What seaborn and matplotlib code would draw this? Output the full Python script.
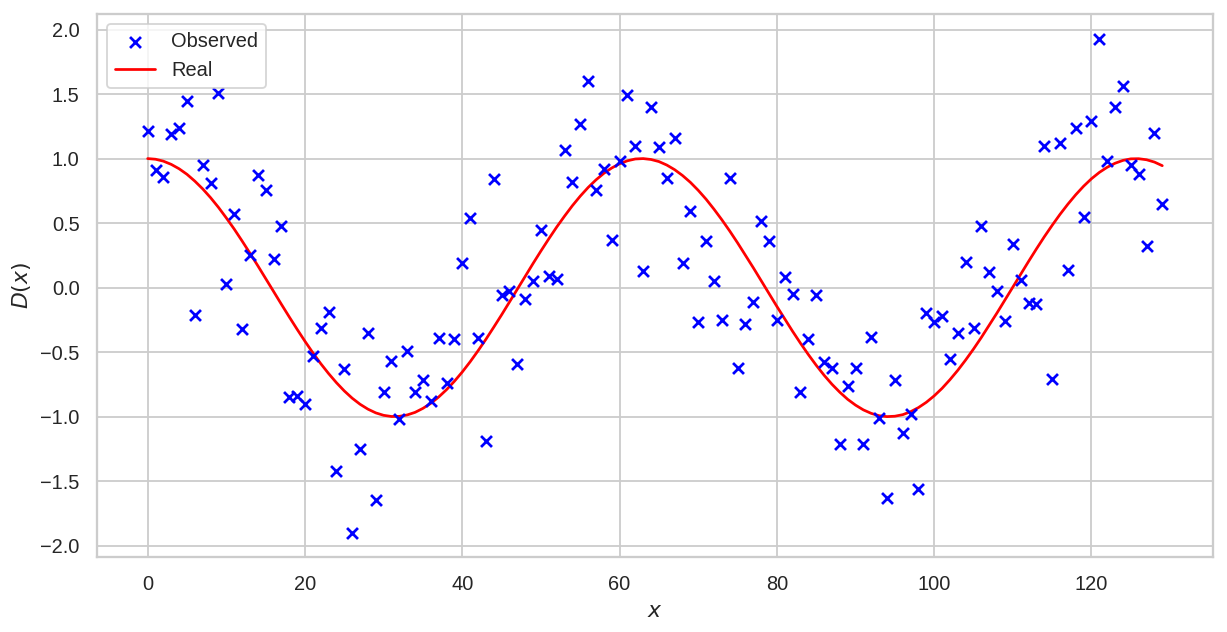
import matplotlib
matplotlib.use("Agg")
import matplotlib.pyplot as plt
import seaborn as sns
import pandas as pd

x_vals = list(range(130))

observed = [
    1.21, 0.91, 0.86, 1.19, 1.24, 1.45, -0.21, 0.95, 0.81, 1.51,
    0.03, 0.57, -0.32, 0.25, 0.87, 0.76, 0.22, 0.48, -0.85, -0.84,
    -0.90, -0.53, -0.31, -0.19, -1.42, -0.63, -1.90, -1.25, -0.35, -1.65,
    -0.81, -0.57, -1.02, -0.49, -0.81, -0.72, -0.88, -0.39, -0.74, -0.40,
    0.19, 0.54, -0.39, -1.19, 0.84, -0.06, -0.03, -0.59, -0.09, 0.05,
    0.45, 0.09, 0.07, 1.07, 0.82, 1.27, 1.60, 0.76, 0.92, 0.37,
    0.98, 1.49, 1.10, 0.13, 1.40, 1.09, 0.85, 1.16, 0.19, 0.59,
    -0.27, 0.36, 0.05, -0.25, 0.85, -0.62, -0.28, -0.11, 0.52, 0.36,
    -0.25, 0.08, -0.05, -0.81, -0.40, -0.06, -0.58, -0.62, -1.21, -0.76,
    -0.62, -1.21, -0.38, -1.01, -1.63, -0.72, -1.13, -0.98, -1.56, -0.20,
    -0.27, -0.22, -0.55, -0.35, 0.20, -0.31, 0.48, 0.12, -0.03, -0.26,
    0.34, 0.06, -0.12, -0.13, 1.10, -0.71, 1.12, 0.14, 1.24, 0.55,
    1.29, 1.93, 0.98, 1.40, 1.56, 0.95, 0.88, 0.32, 1.20, 0.65,
]

real = [
    1.000, 0.995, 0.980, 0.955, 0.921, 0.878, 0.825, 0.765, 0.697, 0.622,
    0.540, 0.454, 0.362, 0.267, 0.170, 0.071, -0.029, -0.129, -0.227, -0.323,
    -0.416, -0.505, -0.589, -0.666, -0.737, -0.801, -0.857, -0.904, -0.942, -0.971,
    -0.990, -0.999, -0.998, -0.987, -0.967, -0.936, -0.897, -0.848, -0.791, -0.726,
    -0.654, -0.575, -0.490, -0.401, -0.307, -0.211, -0.112, -0.012, 0.087, 0.187,
    0.284, 0.378, 0.469, 0.554, 0.635, 0.709, 0.776, 0.835, 0.886, 0.927,
    0.960, 0.983, 0.997, 1.000, 0.993, 0.977, 0.950, 0.914, 0.869, 0.816,
    0.754, 0.685, 0.608, 0.526, 0.439, 0.347, 0.251, 0.154, 0.054, -0.046,
    -0.146, -0.243, -0.339, -0.431, -0.519, -0.602, -0.679, -0.749, -0.811, -0.866,
    -0.911, -0.948, -0.975, -0.993, -1.000, -0.997, -0.985, -0.962, -0.930, -0.889,
    -0.839, -0.781, -0.714, -0.641, -0.561, -0.476, -0.386, -0.291, -0.195, -0.096,
    0.004, 0.104, 0.203, 0.300, 0.394, 0.483, 0.568, 0.647, 0.720, 0.786,
    0.844, 0.893, 0.933, 0.964, 0.986, 0.998, 0.999, 0.991, 0.973, 0.945,
]

df = pd.DataFrame({"x": x_vals, "observed": observed, "real": real})

sns.set_theme(style="whitegrid")
plt.rcParams["font.family"] = ["Liberation Sans", "DejaVu Sans"]
DPI = 131.2
fig, ax = plt.subplots(figsize=(1227 / DPI, 632 / DPI), dpi=DPI)
fig.subplots_adjust(left=0.079, right=0.9886, top=0.978, bottom=0.118)

sns.scatterplot(data=df, x="x", y="observed", marker="x", color="blue",
                s=36, linewidth=1.5, ax=ax, label="Observed", zorder=3)
sns.lineplot(data=df, x="x", y="real", color="red", linewidth=1.5,
             ax=ax, label="Real", zorder=2)

ax.set_xlabel("$x$")
ax.set_ylabel("$D(x)$")
ax.legend(loc="upper left")

fig.savefig("out.png", dpi=DPI)
